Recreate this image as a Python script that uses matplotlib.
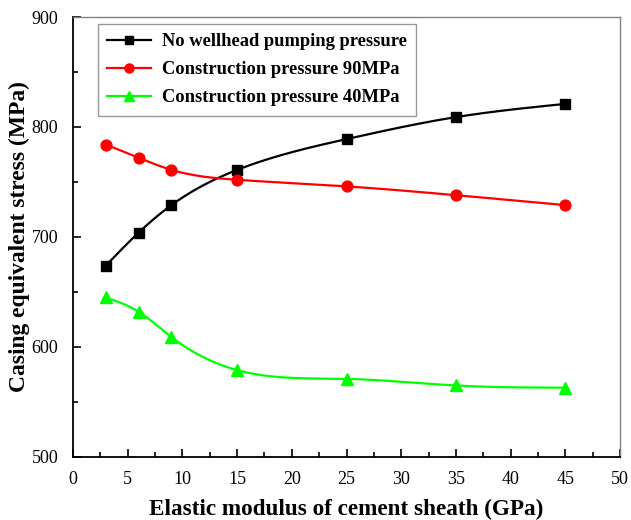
import numpy as np
import matplotlib
matplotlib.use("Agg")
import matplotlib.pyplot as plt
from matplotlib.ticker import MultipleLocator

modulus = [3, 6, 9, 15, 25, 35, 45]
no_pump = [674, 704, 729, 761, 789, 809, 821]
press_90 = [784, 772, 761, 752, 746, 738, 729]
press_40 = [645, 632, 609, 579, 571, 565, 563]
labels = ["No wellhead pumping pressure", "Construction pressure 90MPa",
          "Construction pressure 40MPa"]


def natural_spline(x, y, n=300):
    x = np.asarray(x, float)
    y = np.asarray(y, float)
    k = len(x)
    h = np.diff(x)
    A = np.zeros((k, k))
    b = np.zeros(k)
    A[0, 0] = 1
    A[-1, -1] = 1
    for i in range(1, k - 1):
        A[i, i - 1] = h[i - 1]
        A[i, i] = 2 * (h[i - 1] + h[i])
        A[i, i + 1] = h[i]
        b[i] = 3 * ((y[i + 1] - y[i]) / h[i] - (y[i] - y[i - 1]) / h[i - 1])
    c = np.linalg.solve(A, b)
    xs = np.linspace(x[0], x[-1], n)
    ys = np.empty_like(xs)
    for j, xv in enumerate(xs):
        i = min(np.searchsorted(x, xv, side="right") - 1, k - 2)
        dx = xv - x[i]
        bi = (y[i + 1] - y[i]) / h[i] - h[i] * (2 * c[i] + c[i + 1]) / 3
        di = (c[i + 1] - c[i]) / (3 * h[i])
        ys[j] = y[i] + bi * dx + c[i] * dx ** 2 + di * dx ** 3
    return xs, ys


plt.rcParams['font.family'] = ['Liberation Serif', 'DejaVu Serif']

fig = plt.figure(figsize=(6.31, 5.2), dpi=100)
ax = fig.add_axes([0.1157, 0.1212, 0.8669, 0.8461])

series = [
    (no_pump, "black", "s", 7.0, 5.5),
    (press_90, "#ff0000", "o", 7.8, 6.5),
    (press_40, "#00ff00", "^", 8.5, 7.0),
]
handles = []
for (vals, col, mk, ms, lms), lab in zip(series, labels):
    xs, ys = natural_spline(modulus, vals)
    ax.plot(xs, ys, color=col, lw=1.6, zorder=2)
    ax.plot(modulus, vals, linestyle="none", marker=mk, color=col, ms=ms, zorder=3)
    h, = ax.plot([], [], color=col, lw=1.6, marker=mk, ms=lms, label=lab)
    handles.append(h)

ax.set_xlim(0, 50)
ax.set_ylim(500, 900)
ax.xaxis.set_major_locator(MultipleLocator(5))
ax.xaxis.set_minor_locator(MultipleLocator(2.5))
ax.yaxis.set_major_locator(MultipleLocator(100))
ax.yaxis.set_minor_locator(MultipleLocator(50))
ax.tick_params(which="both", direction="in", top=False, right=False,
               labelsize=13, width=1.2)
ax.tick_params(axis="x", pad=10)
ax.tick_params(axis="y", pad=10.5)
ax.tick_params(which="major", length=6)
ax.tick_params(which="minor", length=3.5)
for s in ["left", "bottom"]:
    ax.spines[s].set_linewidth(1.3)
    ax.spines[s].set_color("black")
for s in ["top", "right"]:
    ax.spines[s].set_linewidth(1.0)
    ax.spines[s].set_color("#808080")

ax.set_xlabel("Elastic modulus of cement sheath (GPa)", fontsize=16.7,
              fontweight="bold", labelpad=8)
ax.set_ylabel("Casing equivalent stress (MPa)", fontsize=16.9,
              fontweight="bold", labelpad=1.5)

leg = ax.legend(handles=handles, loc="upper left", bbox_to_anchor=(0.0457, 0.984),
                borderaxespad=0, frameon=True, fancybox=False,
                prop={"weight": "bold", "size": 13.3},
                handlelength=2.35, handletextpad=0.6, labelspacing=0.6,
                borderpad=0.5)
leg.get_frame().set_edgecolor("#808080")
leg.get_frame().set_linewidth(1.0)

fig.savefig("out.png", dpi=100)
